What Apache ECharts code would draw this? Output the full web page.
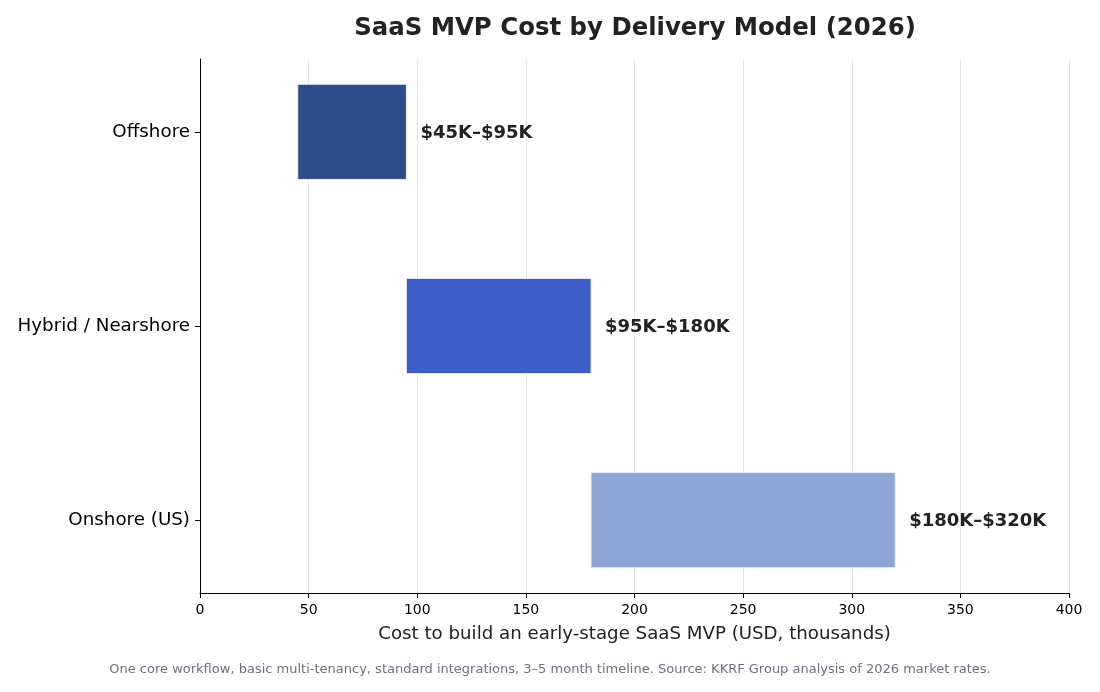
<!DOCTYPE html>
<html>
<head>
<meta charset="utf-8">
<script src="https://cdn.jsdelivr.net/npm/echarts@6/dist/echarts.min.js"></script>
<style>
  html, body { margin: 0; padding: 0; background: #fff; }
  #main { width: 1100px; height: 692px; }
</style>
</head>
<body>
<div id="main"></div>
<script>
// delivery models, top to bottom
var models = ['Offshore', 'Hybrid / Nearshore', 'Onshore (US)'];
// cost range in USD thousands
var lowCost = [45, 95, 180];
var highCost = [95, 180, 320];
var rangeLabels = ['$45K–$95K', '$95K–$180K', '$180K–$320K'];
var barColors = ['#2d4c8a', '#3d5dc8', '#8fa5d6'];

var font = 'DejaVu Sans';

var rows = models.map(function (m, i) {
  return [i, lowCost[i], highCost[i]];
});

var myChart = echarts.init(document.getElementById('main'));

var option = {
  animation: false,
  title: {
    text: 'SaaS MVP Cost by Delivery Model (2026)',
    left: 630,
    textAlign: 'center',
    top: 12,
    textStyle: { fontFamily: font, fontSize: 24.4, fontWeight: 'bold', color: '#222' }
  },
  graphic: [{
    type: 'text',
    left: 'center',
    top: 663,
    style: {
      text: 'One core workflow, basic multi-tenancy, standard integrations, 3–5 month timeline. Source: KKRF Group analysis of 2026 market rates.',
      fontFamily: font,
      fontSize: 13,
      fill: '#6b7280'
    }
  }],
  grid: { left: 200, right: 31, top: 59, bottom: 99 },
  xAxis: {
    type: 'value',
    min: 0,
    max: 400,
    interval: 50,
    name: 'Cost to build an early-stage SaaS MVP (USD, thousands)',
    nameLocation: 'middle',
    nameGap: 32,
    nameTextStyle: { fontFamily: font, fontSize: 18.2, color: '#222' },
    axisLine: { show: true, onZero: false, lineStyle: { color: '#000', width: 1 } },
    axisTick: { show: true, length: 5, lineStyle: { color: '#000' } },
    axisLabel: { fontFamily: font, fontSize: 14, color: '#000', margin: 10 },
    splitLine: { show: true, lineStyle: { color: '#e6e6e6', width: 1 } }
  },
  yAxis: {
    type: 'value',
    inverse: true,
    min: -0.375,
    max: 2.375,
    axisLine: { show: true, onZero: false, lineStyle: { color: '#000', width: 1 } },
    axisTick: { show: true, length: 5, customValues: [0, 1, 2], lineStyle: { color: '#000' } },
    axisLabel: {
      customValues: [0, 1, 2],
      fontFamily: font,
      fontSize: 18.3,
      color: '#000',
      margin: 10,
      padding: [3, 0, 0, 0],
      formatter: function (v) { return models[Math.round(v)]; }
    },
    splitLine: { show: false }
  },
  series: [{
    type: 'custom',
    data: rows,
    encode: { x: [1, 2], y: 0 },
    renderItem: function (params, api) {
      var idx = api.value(0);
      var start = api.coord([api.value(1), idx]);
      var end = api.coord([api.value(2), idx]);
      var h = api.size([0, 0.49])[1];
      return {
        type: 'group',
        children: [{
          type: 'rect',
          shape: { x: start[0], y: start[1] - h / 2, width: end[0] - start[0], height: h },
          style: { fill: barColors[idx], stroke: '#e8ecf5', lineWidth: 1 }
        }, {
          type: 'text',
          x: end[0] + 14,
          y: end[1] + 1.5,
          style: {
            text: rangeLabels[idx],
            fontFamily: font,
            fontSize: 18,
            fontWeight: 'bold',
            fill: '#222',
            verticalAlign: 'middle'
          }
        }]
      };
    }
  }]
};

myChart.setOption(option);
</script>
</body>
</html>
